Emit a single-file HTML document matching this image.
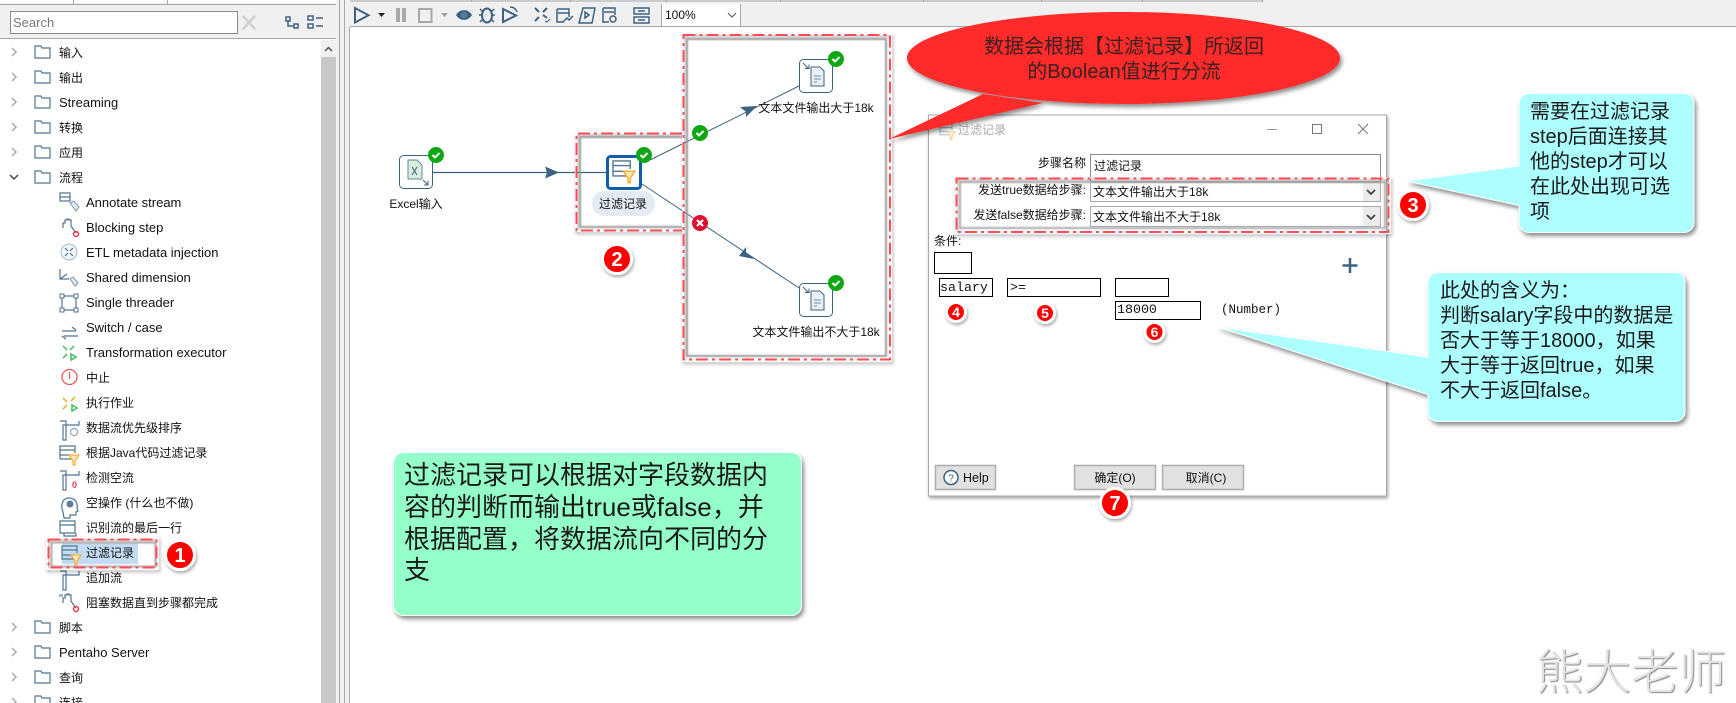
<!DOCTYPE html>
<html><head><meta charset="utf-8"><style>
html,body{margin:0;padding:0;background:#fff;width:1736px;height:703px;overflow:hidden}
svg{display:block}
text{font-family:"Liberation Sans","Noto Sans CJK SC",sans-serif;font-size:12px;fill:#111}
.l{font-size:13px}
.m{font-family:"Liberation Mono","Noto Sans CJK SC",monospace;font-size:13.300px}
.c{font-size:20px;fill:#1a1a1a}
.g{font-size:26px;fill:#1a1a1a}
.r{font-size:20px;fill:#3a2020}
.b{font-family:"Liberation Sans",sans-serif;font-weight:bold;fill:#fff;text-anchor:middle}
.ic{fill:none;stroke:#527592;stroke-width:1.200}
</style></head><body>
<svg width="1736" height="703" viewBox="0 0 1736 703" xmlns="http://www.w3.org/2000/svg">
<defs>
<filter id="s" x="-20%" y="-20%" width="140%" height="140%"><feDropShadow dx="2" dy="3" stdDeviation="2" flood-color="#000" flood-opacity=".45"/></filter>
<filter id="s2" x="-30%" y="-30%" width="160%" height="160%"><feDropShadow dx="1" dy="2" stdDeviation="1.500" flood-color="#000" flood-opacity=".35"/></filter>
<filter id="bl" x="-5%" y="-5%" width="110%" height="110%"><feGaussianBlur stdDeviation=".9"/></filter>
<symbol id="f" overflow="visible"><path class="ic" d="M35 -6h6l1 2h8v10h-15z" stroke-width="1.500"/></symbol>
<symbol id="ok" overflow="visible"><circle r="8" fill="#0fa814"/><path d="M-3.500 0l2.500 2.500 4.500-4.500" fill="none" stroke="#fff" stroke-width="2"/></symbol>
<symbol id="node" overflow="visible"><rect x="0.500" y="0.500" width="33" height="33" rx="4" fill="#fff" stroke="#3c6282"/><path d="M4 4l6 6M6 9.500h4v-4" fill="none" stroke="#3c6282"/><path d="M12 8h9l4 4v15H12z" fill="#e8f0f6" stroke="#3c6282"/><path d="M15 17h7M15 20h7M15 23h3" stroke="#6f8ea6"/></symbol>
<symbol id="tbl" overflow="visible"><path class="ic" d="M0 -7h15v4h-15zM0 -3v9h12M0 2h11M15 -7v7"/><path d="M9 2h10l-4 6v4h-2v-4z" fill="#ffe9bd" stroke="#f5a623" stroke-width="1.100"/></symbol>
<symbol id="t" overflow="visible"><path class="ic" d="M0 -7h6v4h13v-4M6 -3h-3v15h3v-15"/></symbol>
</defs>

<!-- top chrome -->
<rect width="1736" height="703" fill="#fff"/>
<rect x="0" y="3" width="336" height="36" fill="#f0f0f0"/>
<path d="M0 4.500H336M0 38.500H336" stroke="#a8a8a8"/>
<path d="M73.500 0v4M167.500 0v4" stroke="#a8a8a8"/>
<rect x="10.500" y="11.500" width="227" height="22" fill="#fff" stroke="#8a8a8a"/>
<text x="13" y="27" style="fill:#777;font-size:13px">Search</text>
<path d="M243 16l12 13M255 16l-12 13" stroke="#d0d0d0" stroke-width="2.500"/>
<path d="M286 17h4v4h-4zM294 24h4v4h-4zM288 21v5h6" fill="none" stroke="#3c6282" stroke-width="1.500"/>
<path d="M308 16h5v4h-5zM308 24h5v4h-5zM316 18h7M316 26h7" fill="none" stroke="#3c6282" stroke-width="1.500"/>

<!-- scrollbar -->
<rect x="321" y="40" width="15" height="663" fill="#c8c8c8"/>
<rect x="321" y="40" width="15" height="17" fill="#f0f0f0"/>
<path d="M325 51l3.500-3.500 3.500 3.500" fill="none" stroke="#555" stroke-width="1.500"/>
<rect x="336" y="0" width="14" height="703" fill="#f0f0f0"/>
<path d="M339.500 0V703M344.500 0V703M349.500 27V703" stroke="#a8a8a8"/>

<!-- toolbar -->
<rect x="350" y="0" width="1386" height="27" fill="#f0f0f0"/>
<path d="M350 1H1262M350 26.500H1736" stroke="#a8a8a8"/>
<path d="M471.500 0v2M570.500 0v2M666.500 0v2M780.500 0v2M923.500 0v2M1041.500 0v2M1142.500 0v2M1262.500 0v2" stroke="#a8a8a8"/>
<path d="M355 8v14.500l13.500-7.200z" fill="none" stroke="#3c6282" stroke-width="2"/>
<path d="M378 13h7l-3.500 4z" fill="#222"/>
<path d="M398 8v14M404 8v14" stroke="#a8a8a8" stroke-width="4"/>
<rect x="419" y="9" width="12.500" height="13" fill="none" stroke="#a8a8a8" stroke-width="2"/>
<path d="M441 13h7l-3.500 4z" fill="#a0a0a0"/>
<path d="M456 15c4-6.500 12-6.500 16 0-4 6.500-12 6.500-16 0z" fill="#3c6282"/><circle cx="464" cy="15" r="3" fill="#5a7f9c"/>
<ellipse cx="487" cy="15.500" rx="5" ry="7" fill="none" stroke="#3c6282" stroke-width="2"/>
<path d="M480 9l3 3M494 9l-3 3M479 15h3M495 15h-3M480 22l3-3M494 22l-3-3" stroke="#3c6282" stroke-width="1.500"/>
<path d="M503 9v13l13-6.500z" fill="none" stroke="#3c6282" stroke-width="2"/><path d="M510 7c4 0 6 2 7 5" fill="none" stroke="#3c6282" stroke-width="1.500"/>
<path d="M535 8l4 4M547 8l-4 4M535 21l4-4M547 18l-4-3" stroke="#3c6282" stroke-width="2"/><path d="M545 21l2 1 3-3" fill="none" stroke="#3c6282"/>
<path d="M557 9h12v8M557 9v13h7" fill="none" stroke="#3c6282" stroke-width="1.500"/><path d="M558 13h11M563 22l4-4 2 2 4-4" fill="none" stroke="#3c6282" stroke-width="1.500"/>
<path d="M583 8h12l-3 15h-13zM585 12l4 3-4 3z" fill="none" stroke="#3c6282" stroke-width="1.500"/>
<path d="M603 8h12v7M603 8v14h6M604 12h10" fill="none" stroke="#3c6282" stroke-width="1.500"/><circle cx="613" cy="19" r="3" fill="none" stroke="#3c6282" stroke-width="1.500"/>
<path d="M634 8h15v6h-15zM634 17h15v6h-15zM638 11h7M638 20h7" fill="none" stroke="#3c6282" stroke-width="1.500"/>
<rect x="662" y="4" width="78" height="22" fill="#fff"/>
<path d="M661.500 4V26.500M740.500 4V26.500" stroke="#a8a8a8"/>
<text x="665" y="19">100%</text>
<path d="M728 13l4 4 4-4" fill="none" stroke="#555"/>

<!-- tree -->
<g>
<use href="#f" y="52"/><use href="#f" y="77"/><use href="#f" y="102"/><use href="#f" y="127"/><use href="#f" y="152"/><use href="#f" y="177"/>
<use href="#f" y="627"/><use href="#f" y="652"/><use href="#f" y="677"/><use href="#f" y="702"/>
<path d="M12 48l4 4-4 4M12 73l4 4-4 4M12 98l4 4-4 4M12 123l4 4-4 4M12 148l4 4-4 4M12 623l4 4-4 4M12 648l4 4-4 4M12 673l4 4-4 4M12 698l4 4-4 4" fill="none" stroke="#aaa" stroke-width="1.500"/>
<path d="M10 175l4 4 4-4" fill="none" stroke="#444" stroke-width="1.500"/>
<text x="59" y="57">输入</text>
<text x="59" y="82">输出</text>
<text class="l" x="59" y="107">Streaming</text>
<text x="59" y="132">转换</text>
<text x="59" y="157">应用</text>
<text x="59" y="182">流程</text>
<text class="l" x="86" y="207">Annotate stream</text>
<text class="l" x="86" y="232">Blocking step</text>
<text class="l" x="86" y="257">ETL metadata injection</text>
<text class="l" x="86" y="282">Shared dimension</text>
<text class="l" x="86" y="307">Single threader</text>
<text class="l" x="86" y="332">Switch / case</text>
<text class="l" x="86" y="357">Transformation executor</text>
<text x="86" y="382">中止</text>
<text x="86" y="407">执行作业</text>
<text x="86" y="432">数据流优先级排序</text>
<text x="86" y="457">根据Java代码过滤记录</text>
<text x="86" y="482">检测空流</text>
<text x="86" y="507">空操作 (什么也不做)</text>
<text x="86" y="532">识别流的最后一行</text>
<rect x="62" y="543" width="76" height="21" fill="#c4dcf3"/>
<text x="86" y="557">过滤记录</text>
<text x="86" y="582">追加流</text>
<text x="86" y="607">阻塞数据直到步骤都完成</text>
<text x="59" y="632">脚本</text>
<text class="l" x="59" y="657">Pentaho Server</text>
<text x="59" y="682">查询</text>
<text x="59" y="707">连接</text>
</g>
<!-- tree icons -->
<path class="ic" d="M60 193h10v4h-10zM60 197h10v4h-10z"/><path d="M70 203l4-2 5 6-3 4z" fill="#dfe8ef" stroke="#7e9ab0"/>
<path class="ic" d="M63 228v-5h2v-3h2v-1h2v1h2v6l5 7"/><circle cx="76" cy="234" r="2.500" fill="none" stroke="#e8384f" stroke-width="1.500"/>
<circle cx="69" cy="252" r="8" fill="#f0f4f7" stroke="#a8bccb"/><path class="ic" d="M65 248l3 3M73 248l-3 3M65 256l3-3M73 256l-3-3"/>
<path class="ic" d="M60 269v10h9M60 279l7-5"/><path d="M70 279l3-2 5 6-3 3z" fill="#dfe8ef" stroke="#7e9ab0"/>
<path class="ic" d="M62 296h14v14h-14z"/><path d="M60 294h4v4h-4zM74 294h4v4h-4zM60 308h4v4h-4zM74 308h4v4h-4z" fill="#fff" stroke="#527592"/>
<path class="ic" d="M62 331h14M72 327l4 3M64 336h14M66 339l-4-3"/>
<path d="M63 346l4 4M74 346l-4 4M63 358l4-4M71 354l5 3-5 3z" fill="none" stroke="#3fbf5b" stroke-width="1.500"/>
<circle cx="69.500" cy="377" r="7.500" fill="none" stroke="#ec5a5a" stroke-width="1.300"/><path d="M69.500 372v7" stroke="#ec5a5a" stroke-width="1.300"/>
<path d="M63 398l4 4M75 397l-4 4M63 409l4-4" fill="none" stroke="#f5a623" stroke-width="1.500"/><path d="M72 405l5 3-5 3z" fill="none" stroke="#3fbf5b" stroke-width="1.500"/>
<use href="#t" x="60" y="428"/><circle cx="74" cy="432" r="3.500" fill="none" stroke="#7e9ab0"/>
<use href="#tbl" x="60" y="453"/>
<use href="#t" x="60" y="478"/><text x="72" y="488" style="font-size:9px;fill:#e8384f;font-weight:bold">0</text>
<path class="ic" d="M63 512c-3-8 0-14 6-14s9 5 8 10l1 3-2 1v3h-6v3h-6z"/><circle cx="70" cy="504" r="3.500" fill="#5a7f9c"/>
<path class="ic" d="M60 521h15v4h-15zM60 525v8h15v-8M64 533v3h12v-3"/>
<g transform="translate(2,0)"><use href="#tbl" x="60" y="553"/></g>
<use href="#t" x="60" y="578"/>
<path class="ic" d="M63 603v-5h2v-3h2v-1h2v1h2v6l5 7"/><path d="M60 594v3M62 594v3" stroke="#527592"/><circle cx="76" cy="609" r="2.500" fill="none" stroke="#e8384f" stroke-width="1.500"/>

<!-- box 1 -->
<rect x="47" y="538" width="111" height="31" fill="none" stroke="#fff" stroke-width="2" filter="url(#s2)"/>
<rect x="51.500" y="542.500" width="104" height="24" fill="none" stroke="#aaa" stroke-width="2" filter="url(#bl)"/>
<rect x="48.500" y="539.500" width="108" height="28" fill="none" stroke="#ff4b55" stroke-width="2" stroke-dasharray="12 4 3 4"/>

<!-- connectors -->
<path d="M433 172.500H606" stroke="#3c6282" stroke-width="1.300"/>
<path d="M545 166.500l14 6-14 6 2-6z" fill="#3c6282"/>
<path d="M650 160L799 86" stroke="#3c6282" stroke-width="1"/>
<path d="M740 107l17-1-11 11 0-5z" fill="#3c6282"/>
<path d="M642 184L799 288" stroke="#3c6282" stroke-width="1"/>
<path d="M754 259l-15-3 7-9 0 6z" fill="#3c6282"/>

<!-- nodes -->
<rect x="399.500" y="155.500" width="33" height="33" rx="4" fill="#fff" stroke="#3c6282"/>
<path d="M408 160h9l5 5v14h-14z" fill="#d9efdc" stroke="#5f8aa6"/><path d="M412 167l5 8M417 167l-5 8" stroke="#3c6282"/><path d="M423 180l5 5M428 181v4h-4" fill="none" stroke="#3c6282"/>
<use href="#ok" x="436" y="155"/>
<text x="416" y="208" text-anchor="middle">Excel输入</text>

<rect x="607.500" y="156.500" width="33" height="32" rx="3" fill="#fff" stroke="#0f5ea8" stroke-width="3"/>
<g transform="translate(613,169) scale(1.150)"><use href="#tbl"/></g>
<use href="#ok" x="644" y="155"/>
<rect x="592" y="191" width="63" height="25" rx="12" fill="#e3ecf4"/>
<text x="623" y="208" text-anchor="middle">过滤记录</text>

<use href="#node" x="799" y="59"/><use href="#ok" x="836" y="59"/>
<text x="816" y="112" text-anchor="middle">文本文件输出大于18k</text>
<use href="#node" x="799" y="283"/><use href="#ok" x="836" y="283"/>
<text x="816" y="336" text-anchor="middle">文本文件输出不大于18k</text>

<!-- dialog -->
<rect x="928.500" y="115" width="458" height="381" fill="#fff" stroke="#a8a8a8" filter="url(#s2)"/>
<g transform="translate(940,130) scale(.8)" opacity=".55"><use href="#tbl"/></g>
<text x="958" y="134" style="fill:#aaa">过滤记录</text>
<path d="M1267 129.500h10" stroke="#999"/><rect x="1312.500" y="124.500" width="9" height="9" fill="none" stroke="#777"/><path d="M1358 124l10 10M1368 124l-10 10" stroke="#777"/>
<text x="1086" y="167" text-anchor="end">步骤名称</text>
<rect x="1090.500" y="154.500" width="290" height="27" fill="#fff" stroke="#8a8a8a"/>
<text x="1094" y="170">过滤记录</text>
<rect x="1090.500" y="182.500" width="290" height="19" fill="#fff" stroke="#aaa"/>
<rect x="1090.500" y="206.500" width="290" height="20" fill="#fff" stroke="#aaa"/>
<rect x="1363" y="183" width="17" height="18" fill="#ececec"/><rect x="1363" y="207" width="17" height="19" fill="#ececec"/>
<path d="M1367 190l4 4 4-4M1367 215l4 4 4-4" fill="none" stroke="#444" stroke-width="1.800"/>
<text x="1093" y="196">文本文件输出大于18k</text>
<text x="1093" y="221">文本文件输出不大于18k</text>
<text x="1086" y="194" text-anchor="end">发送true数据给步骤:</text>
<text x="1086" y="219" text-anchor="end">发送false数据给步骤:</text>
<text x="934" y="245">条件:</text>
<g fill="#fff" stroke="#000">
<rect x="934.500" y="252.500" width="37" height="21"/>
<rect x="939.500" y="278.500" width="53" height="18"/>
<rect x="1007.500" y="278.500" width="93" height="18"/>
<rect x="1115.500" y="278.500" width="53" height="18"/>
<rect x="1115.500" y="301.500" width="85" height="18"/>
</g>
<text class="m" x="940" y="291">salary</text>
<text class="m" x="1010" y="291">&gt;=</text>
<text class="m" x="1117" y="313">18000</text>
<text class="m" x="1221" y="313" style="font-size:12.500px">(Number)</text>
<path d="M1350 258v15M1342.500 265.500h15" stroke="#3c6282" stroke-width="2.500"/>
<g fill="#e1e1e1" stroke="#adadad" stroke-width="1.500">
<rect x="935.500" y="465.500" width="60" height="24"/>
<rect x="1074.500" y="465.500" width="81" height="24"/>
<rect x="1162.500" y="465.500" width="81" height="24"/>
</g>
<circle cx="951" cy="477.500" r="7" fill="#fff" stroke="#3c6282" stroke-width="1.500"/><text x="951" y="481.500" text-anchor="middle" style="font-size:10px;fill:#3c6282">?</text>
<text x="963" y="482" style="font-size:12.500px">Help</text>
<text x="1115" y="482" text-anchor="middle">确定(O)</text>
<text x="1206" y="482" text-anchor="middle">取消(C)</text>

<!-- box 2 & 3 -->
<path d="M682 133H576V231H682" fill="none" stroke="#fff" stroke-width="2" filter="url(#s2)"/>
<path d="M682 137H580V227H682" fill="none" stroke="#999" stroke-width="2" filter="url(#bl)"/>
<path d="M682 133.500H576.500V230.500H682" fill="none" stroke="#ff4b55" stroke-width="2" stroke-dasharray="12 4 3 4"/>
<rect x="683" y="34" width="208" height="327" fill="none" stroke="#fff" stroke-width="2" filter="url(#s2)"/>
<rect x="687" y="39" width="199" height="317" fill="none" stroke="#999" stroke-width="2" filter="url(#bl)"/>
<rect x="683.500" y="35" width="206.500" height="324.500" fill="none" stroke="#ff4b55" stroke-width="2" stroke-dasharray="12 4 3 4"/>
<!-- box in dialog -->
<rect x="956" y="178" width="434" height="55" fill="none" stroke="#fff" stroke-width="2" filter="url(#s2)"/>
<rect x="960" y="182" width="425" height="46" fill="none" stroke="#aaa" stroke-width="2" filter="url(#bl)"/>
<rect x="956.500" y="178.500" width="432" height="53.500" fill="none" stroke="#ff4b55" stroke-width="2" stroke-dasharray="12 4 3 4"/>

<!-- status icons on links -->
<use href="#ok" x="700" y="133"/>
<circle cx="700" cy="223" r="8" fill="#e0102e"/><path d="M697 220l6 6M703 220l-6 6" stroke="#fff" stroke-width="2.200"/>

<!-- red callout -->
<path d="M983 94L889 139L1043 103Z M1124 12C1005 12 907 33 907 58s98 46 217 46 216-21 216-46-97-46-216-46z" fill="#ff2a2a" filter="url(#s)"/>
<text class="r" x="1124" y="53" text-anchor="middle">数据会根据【过滤记录】所返回</text>
<text class="r" x="1124" y="78" text-anchor="middle">的Boolean值进行分流</text>

<!-- cyan callouts -->
<path d="M1529 93.500h155a10 10 0 0 1 10 10v119a10 10 0 0 1-10 10h-155a10 10 0 0 1-10-10v-17L1407 181l112-15v-62.500a10 10 0 0 1 10-10z" fill="#adffff" stroke="#fff" stroke-width="1" filter="url(#s)"/>
<text class="c" x="1530" y="118">需要在过滤记录</text>
<text class="c" x="1530" y="143">step后面连接其</text>
<text class="c" x="1530" y="168">他的step才可以</text>
<text class="c" x="1530" y="193">在此处出现可选</text>
<text class="c" x="1530" y="218">项</text>

<path d="M1438 272.500h237a10 10 0 0 1 10 10v129a10 10 0 0 1-10 10h-237a10 10 0 0 1-10-10v-17L1218 327l210 30v-74.500a10 10 0 0 1 10-10z" fill="#adffff" stroke="#fff" stroke-width="1" filter="url(#s)"/>
<text class="c" x="1440" y="297">此处的含义为：</text>
<text class="c" x="1440" y="322">判断salary字段中的数据是</text>
<text class="c" x="1440" y="347">否大于等于18000，如果</text>
<text class="c" x="1440" y="372">大于等于返回true，如果</text>
<text class="c" x="1440" y="397">不大于返回false。</text>

<!-- green -->
<rect x="393.500" y="452.500" width="408" height="163" rx="10" fill="#94ffc8" stroke="#fff" filter="url(#s)"/>
<text class="g" x="404" y="484">过滤记录可以根据对字段数据内</text>
<text class="g" x="404" y="516">容的判断而输出true或false，并</text>
<text class="g" x="404" y="548">根据配置，将数据流向不同的分</text>
<text class="g" x="404" y="579">支</text>

<!-- badges -->
<g filter="url(#s2)" fill="#f00" stroke="#fff" stroke-width="3">
<circle cx="180" cy="555" r="14.500"/>
<circle cx="617" cy="259" r="14.500"/>
<circle cx="1413" cy="205" r="14.500"/>
<circle cx="956" cy="312" r="9.500"/>
<circle cx="1045" cy="313" r="9.500"/>
<circle cx="1154.500" cy="332" r="9.500"/>
<circle cx="1115" cy="503" r="14.500"/>
</g>
<text class="b" x="180" y="562" style="font-size:20px;fill:#fff">1</text>
<text class="b" x="617" y="266" style="font-size:20px;fill:#fff">2</text>
<text class="b" x="1413" y="212" style="font-size:20px;fill:#fff">3</text>
<text class="b" x="956" y="317" style="font-size:14px;fill:#fff">4</text>
<text class="b" x="1045" y="318" style="font-size:14px;fill:#fff">5</text>
<text class="b" x="1154.500" y="337" style="font-size:14px;fill:#fff">6</text>
<text class="b" x="1115" y="510" style="font-size:20px;fill:#fff">7</text>

<!-- watermark -->
<text x="1536" y="689" style="font-size:47.500px;fill:#e3e3e3;font-family:'Noto Sans CJK SC',sans-serif;font-weight:300;text-shadow:1px 1px 1px #888">熊大老师</text>
</svg>
</body></html>
